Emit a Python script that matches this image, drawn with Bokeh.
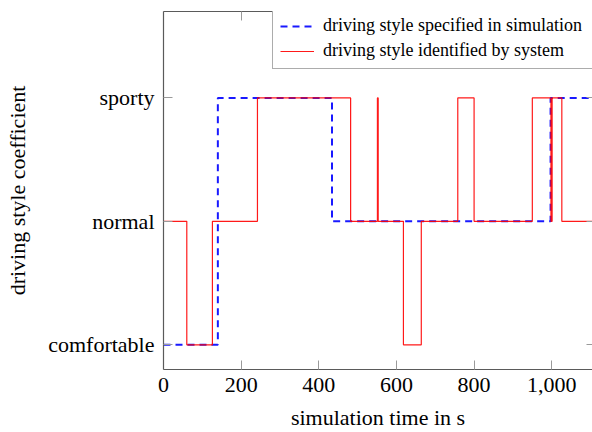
from bokeh.plotting import figure
from bokeh.models import (FixedTicker, LinearAxis, Legend, LegendItem, Range1d,
                          NumeralTickFormatter)
from bokeh.embed import file_html
from bokeh.resources import INLINE

# ---- data -------------------------------------------------------------
level_values = [0, 1, 2]
level_names = ["comfortable", "normal", "sporty"]
x_ticks = [0, 200, 400, 600, 800, 1000]

# driving style specified in simulation (step changes: time, level)
spec_time = [0, 140, 434, 997, 1120]
spec_level = [0, 2, 1, 2, 2]

# driving style identified by system
ident_time = [0, 60, 126, 242, 482, 551, 553, 618, 664, 758, 800, 950, 998, 1001, 1026, 1120]
ident_level = [1, 0, 1, 2, 1, 2, 1, 0, 1, 2, 1, 2, 1, 2, 1, 1]


def step_xy(t, lv):
    xs, ys = [], []
    for i in range(len(t) - 1):
        xs += [t[i], t[i + 1]]
        ys += [lv[i], lv[i]]
    return xs, ys


FONT = "Liberation Serif"
AXIS_COLOR = "#5a5a5a"
TICK_COLOR = "#9a9a9a"

p = figure(width=592, height=432, output_backend="svg", toolbar_location=None,
           x_range=Range1d(0, 1105), y_range=Range1d(-0.2, 2.7),
           min_border_left=163, min_border_right=0, min_border_top=11,
           min_border_bottom=63)
p.outline_line_color = None
p.grid.visible = False
p.background_fill_color = "white"
p.border_fill_color = "white"

ix, iy = step_xy(ident_time, ident_level)
sx, sy = step_xy(spec_time, spec_level)
r_spec = p.line(sx, sy, line_color="#0000ff", line_width=2, line_dash="7 5",
                line_alpha=0.9)
r_ident = p.line(ix, iy, line_color="#ff0000", line_width=1.2, line_alpha=0.9)


def style_axis(ax):
    ax.major_tick_in = 9
    ax.major_tick_out = 0
    ax.minor_tick_in = 0
    ax.minor_tick_out = 0
    ax.axis_line_color = AXIS_COLOR
    ax.axis_line_width = 1.2
    ax.major_tick_line_color = TICK_COLOR
    ax.major_tick_line_width = 1
    ax.major_label_text_font = FONT
    ax.major_label_text_font_size = "22px"
    ax.major_label_text_color = "black"
    ax.major_label_text_line_height = 1.0
    ax.axis_label_text_font = FONT
    ax.axis_label_text_font_size = "22px"
    ax.axis_label_text_font_style = "normal"
    ax.axis_label_text_color = "black"
    ax.axis_label_text_line_height = 1.0


xa = p.xaxis[0]
style_axis(xa)
xa.ticker = FixedTicker(ticks=x_ticks)
xa.formatter = NumeralTickFormatter(format="0,0")
xa.axis_label = "simulation time in s"
xa.major_label_standoff = 8
xa.axis_label_standoff = 10

ya = p.yaxis[0]
style_axis(ya)
ya.ticker = FixedTicker(ticks=level_values)
ya.major_label_overrides = {v: n for v, n in zip(level_values, level_names)}
ya.axis_label = "driving style coefficient"
ya.major_label_standoff = 9
ya.axis_label_standoff = 15

top = LinearAxis(ticker=FixedTicker(ticks=x_ticks))
style_axis(top)
top.major_label_overrides = {t: "" for t in x_ticks}
top.major_label_text_font_size = "0px"
top.major_label_standoff = 0
p.add_layout(top, "above")

right = LinearAxis(ticker=FixedTicker(ticks=level_values))
style_axis(right)
right.axis_line_color = None
right.major_tick_in = 6
right.major_label_overrides = {v: "" for v in level_values}
right.major_label_text_font_size = "0px"
right.major_label_standoff = 0
p.add_layout(right, "right")

legend = Legend(items=[
    LegendItem(label="driving style specified in simulation", renderers=[r_spec]),
    LegendItem(label="driving style identified by system", renderers=[r_ident]),
], location=(109, 300))
legend.label_text_font = FONT
legend.label_text_font_size = "18px"
legend.label_text_color = "black"
legend.glyph_width = 34
legend.glyph_height = 20
legend.label_height = 20
legend.label_width = 275
legend.label_standoff = 9
legend.padding = 7
legend.spacing = 4
legend.margin = 0
legend.border_line_color = AXIS_COLOR
legend.border_line_width = 1.2
legend.background_fill_color = "white"
legend.background_fill_alpha = 1
p.add_layout(legend)

open("out.html", "w").write(file_html(p, INLINE))
